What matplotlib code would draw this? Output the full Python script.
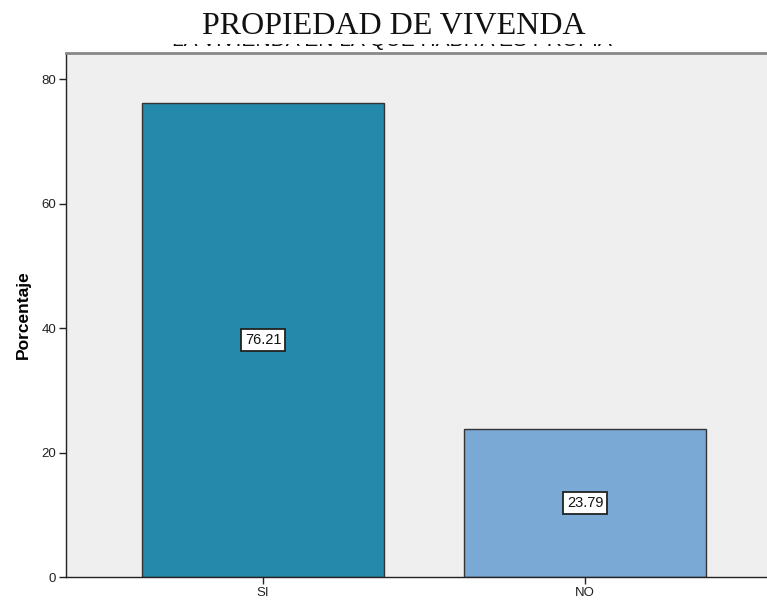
import matplotlib
matplotlib.use("Agg")
import matplotlib.pyplot as plt

categories = ["SI", "NO"]
values = [76.21, 23.79]
labels = ["76.21", "23.79"]
colors = ["#2489AB", "#7BA9D6"]
yticks = [0, 20, 40, 60, 80]

fig = plt.figure(figsize=(7.67, 6.01), dpi=100)
ax = fig.add_axes([66/767, 24/601, 701/767, 524/601])
ax.set_facecolor("#EFEFEF")

x = list(range(len(categories)))
ax.bar(x, values, width=0.75, color=colors, edgecolor="#333333", linewidth=1.0, zorder=2)
for xi, v, lab in zip(x, values, labels):
    ax.text(xi, v / 2, lab, ha="center", va="center", fontsize=10.5, family="Liberation Sans",
            color="#111111", zorder=3,
            bbox=dict(boxstyle="square,pad=0.25", facecolor="white", edgecolor="#222222", linewidth=1.3))

ax.set_xlim(-0.612, 1.565)
ax.set_ylim(0, 84.2)
ax.set_xticks(x)
ax.set_xticklabels(categories, family="Liberation Sans", fontsize=9.5)
ax.set_yticks(yticks)
ax.set_yticklabels([str(t) for t in yticks], family="Liberation Sans", fontsize=9.5)
ax.tick_params(axis="both", length=5, width=1, color="#222222", labelcolor="#222222", pad=2)
ax.set_ylabel("Porcentaje", family="Liberation Sans", fontweight="bold", fontsize=12.5, labelpad=8)

for s in ["left", "bottom"]:
    ax.spines[s].set_color("#222222")
    ax.spines[s].set_linewidth(1.0)
ax.spines["right"].set_visible(False)
ax.spines["top"].set_color("#888888")
ax.spines["top"].set_linewidth(2.0)

# original subtitle, almost entirely hidden behind the pasted white title box
fig.text(391.5/767, 1 - 45.5/601, "LA VIVIENDA EN LA QUE HABITA ES PROPIA", ha="center",
         va="baseline", fontsize=15, family="Liberation Sans", color="#111111", zorder=1)

cover = fig.add_axes([0, 1 - 43.8/601, 1, 43.8/601])
cover.set_zorder(2)
cover.set_facecolor("white")
cover.set_xticks([])
cover.set_yticks([])
for s in cover.spines.values():
    s.set_visible(False)

fig.text(394/767, 1 - 27/601, "PROPIEDAD DE VIVENDA", ha="center", va="center",
         fontsize=23, family="Liberation Serif", color="#111111", zorder=3)

fig.savefig("out.png", dpi=100)
